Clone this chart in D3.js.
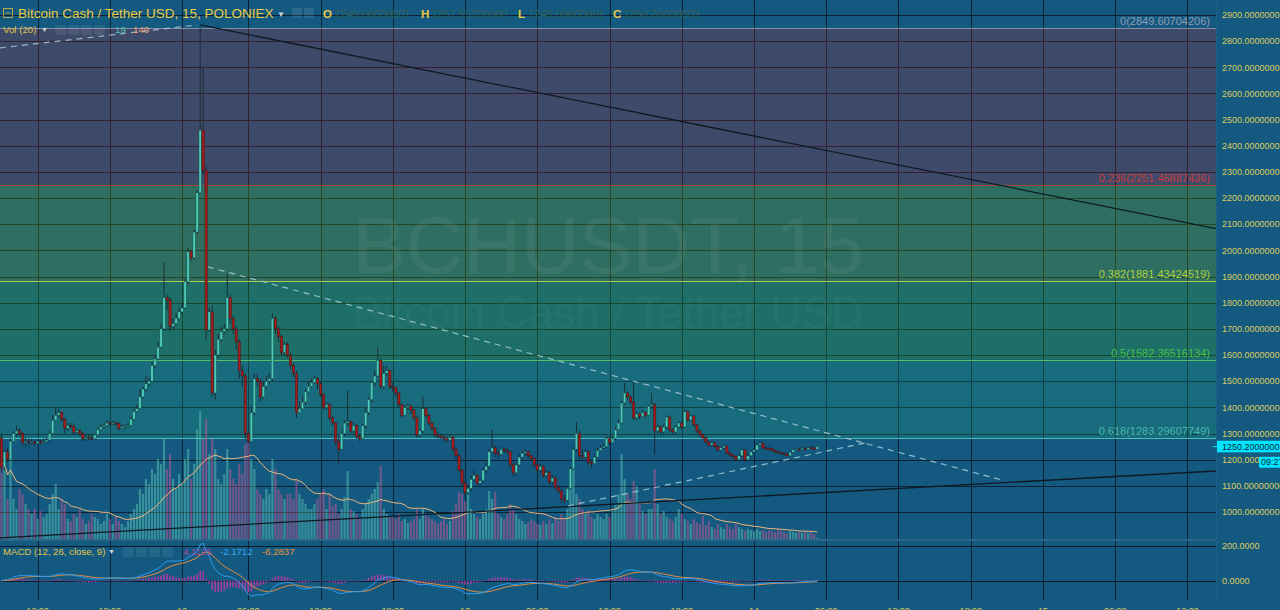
<!DOCTYPE html>
<html><head><meta charset="utf-8">
<script src="https://cdn.jsdelivr.net/npm/d3@7"></script>
<style>html,body{margin:0;padding:0;background:#145a80;overflow:hidden}svg{display:block}text{font-family:"Liberation Sans",Arial,sans-serif}</style>
</head><body><svg id="c" width="1280" height="610"></svg>
<script>
// ---------------- DATA ----------------
const firstOpen = 1283;
const closes = [
1170,1230,1200,1270,1300,1310,1300,1265,1270,1265,
1268,1262,1270,1265,1268,1275,1300,1350,1370,1380,
1355,1320,1330,1328,1305,1310,1300,1280,1285,1282,
1280,1295,1315,1325,1330,1340,1338,1340,1338,1320,
1325,1328,1330,1355,1385,1395,1440,1470,1490,1500,
1560,1585,1630,1700,1820,1810,1710,1720,1740,1765,
1780,1880,1995,1972,2070,2220,2460,2307,1696,1765,
1455,1600,1660,1690,1700,1820,1740,1700,1650,1540,
1520,1300,1270,1380,1510,1500,1440,1480,1500,1510,
1740,1700,1670,1610,1640,1600,1560,1530,1380,1395,
1420,1460,1480,1495,1510,1490,1450,1400,1410,1360,
1340,1270,1240,1300,1340,1345,1310,1330,1290,1280,
1330,1380,1430,1495,1520,1580,1480,1530,1540,1480,
1475,1455,1410,1370,1400,1405,1390,1360,1295,1310,
1395,1370,1340,1320,1295,1290,1285,1280,1275,1285,
1240,1215,1160,1110,1075,1090,1125,1140,1110,1120,
1160,1175,1230,1245,1225,1220,1240,1235,1230,1180,
1150,1180,1210,1225,1230,1215,1205,1180,1160,1175,
1140,1150,1115,1130,1095,1080,1050,1045,1090,1165,
1240,1300,1215,1210,1230,1190,1185,1210,1235,1245,
1250,1280,1265,1280,1315,1340,1417,1455,1440,1420,
1360,1375,1365,1380,1370,1405,1410,1310,1325,1306,
1325,1363,1314,1306,1325,1340,1325,1383,1352,1367,
1333,1310,1295,1283,1268,1256,1264,1250,1237,1245,
1252,1226,1218,1212,1200,1215,1237,1200,1215,1230,
1237,1256,1262,1245,1243,1242,1235,1230,1228,1225,
1222,1215,1228,1238,1240,1238,1243,1240,1246,1245,
1240,1250.2];
const highs = [
1300,1240,1245,1280,1310,1330,1320,1305,1285,1280,
1280,1275,1278,1275,1280,1285,1310,1370,1400,1395,
1385,1360,1340,1340,1340,1320,1318,1305,1295,1295,
1300,1300,1325,1335,1340,1350,1348,1350,1348,1345,
1335,1335,1340,1365,1395,1410,1470,1480,1520,1515,
1575,1600,1650,1720,1955,1830,1820,1740,1760,1780,
1800,1890,2010,2000,2080,2230,2849.6,2697,2320,1780,
1790,1620,1680,1710,1720,1910,1830,1750,1710,1660,
1560,1530,1310,1400,1530,1530,1510,1500,1520,1530,
1760,1750,1710,1680,1650,1650,1610,1570,1540,1420,
1440,1470,1500,1510,1520,1515,1500,1455,1420,1415,
1370,1345,1290,1310,1350,1466,1350,1345,1335,1300,
1340,1400,1440,1500,1540,1630,1590,1560,1560,1545,
1495,1480,1460,1415,1410,1415,1410,1395,1365,1320,
1440,1400,1375,1345,1325,1305,1300,1295,1290,1295,
1290,1250,1220,1165,1120,1105,1140,1160,1145,1130,
1170,1190,1240,1315,1255,1235,1250,1250,1245,1235,
1190,1190,1220,1235,1240,1235,1220,1210,1185,1185,
1180,1160,1160,1140,1135,1100,1090,1065,1100,1175,
1250,1345,1310,1240,1240,1235,1200,1220,1245,1255,
1260,1290,1290,1290,1325,1355,1425,1493,1462,1445,
1497,1385,1380,1390,1385,1410,1455,1415,1335,1330,
1335,1370,1368,1320,1332,1348,1345,1392,1388,1372,
1370,1338,1315,1300,1288,1272,1270,1268,1255,1250,
1258,1255,1230,1222,1215,1220,1242,1240,1222,1236,
1244,1262,1268,1268,1252,1250,1246,1240,1236,1232,
1230,1226,1232,1242,1246,1245,1250,1248,1252,1252,
1250,1251.55];
const lows = [
1150,1160,1190,1195,1265,1290,1290,1255,1250,1255,
1258,1255,1258,1258,1260,1265,1270,1295,1345,1360,
1345,1300,1310,1318,1295,1300,1292,1270,1272,1275,
1272,1278,1290,1310,1318,1325,1330,1332,1330,1312,
1315,1318,1322,1325,1350,1380,1390,1435,1460,1480,
1495,1550,1580,1625,1695,1770,1690,1700,1715,1735,
1755,1775,1870,1960,1965,2060,2215,2290,1660,1690,
1440,1430,1590,1650,1680,1690,1720,1680,1620,1510,
1480,1280,1260,1265,1370,1480,1420,1430,1470,1490,
1500,1680,1650,1600,1600,1590,1545,1515,1360,1380,
1390,1410,1455,1475,1490,1470,1440,1390,1390,1350,
1330,1255,1185,1235,1290,1330,1300,1300,1280,1270,
1275,1320,1370,1420,1480,1515,1470,1470,1520,1470,
1460,1440,1400,1360,1365,1390,1375,1350,1285,1285,
1300,1360,1330,1310,1285,1280,1278,1270,1265,1270,
1230,1200,1150,1095,1060,1065,1080,1120,1100,1100,
1110,1150,1165,1225,1210,1205,1215,1225,1220,1170,
1135,1140,1175,1200,1215,1205,1195,1170,1150,1150,
1130,1130,1105,1105,1085,1070,1035,1030,1040,1085,
1160,1230,1200,1195,1205,1180,1170,1180,1205,1230,
1240,1245,1255,1260,1275,1310,1335,1410,1430,1410,
1350,1350,1355,1360,1362,1365,1395,1220,1300,1298,
1300,1318,1305,1298,1300,1320,1318,1320,1345,1348,
1325,1302,1288,1276,1260,1250,1250,1244,1230,1232,
1240,1220,1212,1205,1192,1196,1210,1190,1196,1210,
1226,1232,1252,1240,1236,1236,1230,1225,1222,1218,
1215,1208,1212,1224,1234,1232,1235,1234,1238,1240,
1236,1240];
const volumes = [
1500,1540,800,1660,800,600,1000,900,700,600,
500,600,400,560,440,500,700,900,1100,600,
800,700,400,360,500,440,600,400,300,360,
500,440,400,300,360,500,400,300,440,360,
300,240,360,500,600,700,1000,900,1200,1100,
1400,1300,1600,1500,2000,1400,1700,1200,1000,1300,
1100,1600,1800,1200,1500,2200,2560,2000,2400,1700,
2000,1800,1200,1100,1300,1800,1400,1200,1100,1500,
1300,1900,1940,1600,1400,1000,900,800,1000,900,
1600,1400,1000,900,800,900,900,800,1200,900,
800,700,600,600,700,800,900,1000,600,900,
660,700,500,600,840,1360,600,560,500,400,
600,700,800,900,1000,1140,1460,600,500,440,
440,400,500,360,400,320,360,400,600,400,
600,500,440,400,360,300,360,400,300,360,
560,700,940,900,760,940,600,500,440,400,
500,600,960,800,940,500,440,400,500,700,
600,500,400,360,300,340,400,360,300,280,
360,300,400,320,440,360,500,400,600,1000,
1400,900,800,600,500,560,440,400,500,440,
400,500,440,560,700,900,1700,1200,900,800,
1160,1060,700,560,500,600,600,1400,700,500,
560,440,400,360,440,600,500,400,360,300,
400,340,300,460,280,360,240,200,300,240,
200,300,240,200,300,240,200,160,200,180,
160,200,160,180,140,180,160,140,200,160,
140,120,160,140,120,140,120,160,120,140,
100,19];
const timeTickIndex  = [12,36,60,82,106,130,154,178,202,226,250,274,298,322,346,370,394];
const timeTickLabels = ["12:00","18:00","12","06:00","12:00","18:00","13","06:00","12:00","18:00","14","06:00","12:00","18:00","15","06:00","12:00"];
const priceTicks = [1000,1100,1200,1300,1400,1500,1600,1700,1800,1900,2000,2100,2200,2300,2400,2500,2600,2700,2800,2900];
const macdTicks = [0,200];
const fibRatios = ["0","0.236","0.382","0.5","0.618"];
const fibPrices = [2849.60704206,2251.46887436,1881.43424519,1582.36516134,1283.29607749];
const lineSolidUpper = [[66,2862],[404,2082]];
const lineSolidLower = [[-0.5,901],[404,1157]];
const lineDashedDown = [[68.6,1937],[333.4,1119]];
const lineDashedUp   = [[188.2,1023],[286.9,1264]];
const lineDashedTop  = [[-0.5,2774],[65,2862]];
const lastOHLC = ["1240.00000001","1251.55200000","1240.00000001","1250.20000003"];
const lastPrice = 1250.2;
const volHeader = ["19","140"];
const macdHeader = ["4.1125","-2.1712","-6.2837"];

// ---------------- SETUP ----------------
const svg = d3.select("#c");
const PR = 1216, MAIN_B = 539, MACD_T = 541, MACD_B = 600;
const x = d3.scaleLinear().domain([0,394]).range([1.5, 1.5+394*3.01]);
const y = d3.scaleLinear().domain([1000,2900]).range([512,15]);
const yv = d3.scaleLinear().domain([0,2000]).range([MAIN_B, MAIN_B-100]);
const ym = d3.scaleLinear().domain([0,200]).range([580.7,546]);
const opens = closes.map((c,i)=> i===0 ? firstOpen : closes[i-1]);

const defs = svg.append("defs");
defs.append("clipPath").attr("id","clipMain").append("rect").attr("x",0).attr("y",0).attr("width",PR).attr("height",MAIN_B);
defs.append("clipPath").attr("id","clipMacd").append("rect").attr("x",0).attr("y",MACD_T).attr("width",PR).attr("height",MACD_B-MACD_T);

svg.append("rect").attr("width",1280).attr("height",610).attr("fill","#145a80");

// grid
const grid = svg.append("g");
grid.selectAll("line.h").data(priceTicks).join("line")
  .attr("x1",0).attr("x2",PR).attr("y1",d=>Math.round(y(d))+0.5).attr("y2",d=>Math.round(y(d))+0.5)
  .attr("stroke","#0a2233").attr("stroke-width",1);
grid.selectAll("line.v").data(timeTickIndex).join("line")
  .attr("x1",d=>Math.round(x(d))+0.5).attr("x2",d=>Math.round(x(d))+0.5).attr("y1",0).attr("y2",MACD_B)
  .attr("stroke","#0a2233").attr("stroke-width",1);
grid.selectAll("line.m").data(macdTicks).join("line")
  .attr("x1",0).attr("x2",PR).attr("y1",d=>Math.round(ym(d))+0.5).attr("y2",d=>Math.round(ym(d))+0.5)
  .attr("stroke","#081c2a").attr("stroke-width",1);

// fib zones
const zoneColors = ["rgba(188,26,36,0.25)","rgba(124,175,8,0.26)","rgba(60,175,36,0.26)","rgba(40,162,116,0.25)"];
const zones = d3.range(fibPrices.length-1).map(i=>({a:fibPrices[i],b:fibPrices[i+1],c:zoneColors[i]}));
svg.append("g").selectAll("rect").data(zones).join("rect")
  .attr("x",0).attr("width",PR).attr("y",d=>y(d.a)).attr("height",d=>y(d.b)-y(d.a)).attr("fill",d=>d.c);
const fibLineColors = ["#8e97aa","#b8393c","#bcd84e","#5ccc5c","#55c8bf"];
const fibTextColors = ["#909cb2","#c83a3a","#b0d040","#48c048","#45b8aa"];
svg.append("g").selectAll("line").data(fibPrices).join("line")
  .attr("x1",0).attr("x2",PR).attr("y1",d=>Math.round(y(d))+0.5).attr("y2",d=>Math.round(y(d))+0.5)
  .attr("stroke",(d,i)=>fibLineColors[i]).attr("stroke-width",1).attr("opacity",0.9);

// watermark
svg.append("text").attr("x",608).attr("y",273).attr("text-anchor","middle").attr("font-size",80)
  .attr("fill","rgba(255,255,255,0.055)").text("BCHUSDT, 15");
svg.append("text").attr("x",608).attr("y",328).attr("text-anchor","middle").attr("font-size",44)
  .attr("fill","rgba(255,255,255,0.055)").text("Bitcoin Cash / Tether USD");

const main = svg.append("g").attr("clip-path","url(#clipMain)");
// volume
const bars = closes.map((c,i)=>({i,o:opens[i],c,h:highs[i],l:lows[i],v:volumes[i]}));
main.append("g").selectAll("rect").data(bars).join("rect")
  .attr("x",d=>x(d.i)-1.1).attr("width",2.2)
  .attr("y",d=>yv(d.v)).attr("height",d=>MAIN_B-yv(d.v))
  .attr("fill",d=>d.c>=d.o ? "rgba(95,200,180,0.48)" : "rgba(205,85,150,0.48)");
const volMA = volumes.map((v,i)=>{const s=volumes.slice(Math.max(0,i-19),i+1);return d3.mean(s);});
main.append("path").datum(volMA).attr("fill","none").attr("stroke","#f0b678").attr("stroke-width",1)
  .attr("d",d3.line().x((d,i)=>x(i)).y(d=>yv(d)));

// trend lines
const tl = d3.line().x(d=>x(d[0])).y(d=>y(d[1]));
main.append("path").datum(lineSolidUpper).attr("d",tl).attr("stroke","#0d1a24").attr("stroke-width",1.3).attr("fill","none");
main.append("path").datum(lineSolidLower).attr("d",tl).attr("stroke","#0d1a24").attr("stroke-width",1.3).attr("fill","none");
[lineDashedDown,lineDashedUp,lineDashedTop].forEach(l=>{
  main.append("path").datum(l).attr("d",tl).attr("stroke","#a9cbd6").attr("stroke-width",1.2)
    .attr("stroke-dasharray","6,5").attr("fill","none").attr("opacity",0.85);
});

// candles
const cg = main.append("g");
cg.selectAll("line").data(bars).join("line")
  .attr("x1",d=>x(d.i)).attr("x2",d=>x(d.i))
  .attr("y1",d=>y(Math.max(d.h,d.o,d.c))).attr("y2",d=>y(Math.min(d.l,d.o,d.c)))
  .attr("stroke","#1c2d36").attr("stroke-width",1);
cg.selectAll("rect").data(bars).join("rect")
  .attr("x",d=>x(d.i)-1.2).attr("width",2.4)
  .attr("y",d=>y(Math.max(d.o,d.c))).attr("height",d=>Math.max(1,Math.abs(y(d.o)-y(d.c))))
  .attr("fill",d=>d.c>=d.o ? "#4ccab6" : "#a51c1c")
  .attr("stroke",d=>d.c>=d.o ? "rgba(15,60,60,0.7)" : "rgba(50,10,10,0.7)").attr("stroke-width",0.5);

// fib labels
svg.append("g").selectAll("text").data(fibPrices).join("text")
  .attr("x",1210).attr("y",d=>y(d)-3).attr("text-anchor","end").attr("font-size",11)
  .attr("fill",(d,i)=>fibTextColors[i]).text((d,i)=>fibRatios[i]+"("+d.toFixed(8)+")");

// pane separator
svg.append("rect").attr("x",0).attr("y",MAIN_B).attr("width",1280).attr("height",2).attr("fill","#2a6487");

// MACD (computed from closes)
function ema(arr,n){const k=2/(n+1);const out=[];arr.forEach((v,i)=>{out.push(i===0?v:v*k+out[i-1]*(1-k));});return out;}
const e12 = ema(closes,12), e26 = ema(closes,26);
const macd = e12.map((v,i)=>v-e26[i]);
const signal = ema(macd,9);
const hist = macd.map((v,i)=>v-signal[i]);
const mg = svg.append("g").attr("clip-path","url(#clipMacd)");
mg.append("g").selectAll("rect").data(hist).join("rect")
  .attr("x",(d,i)=>x(i)-0.8).attr("width",1.6)
  .attr("y",d=>Math.min(ym(d),ym(0))).attr("height",d=>Math.max(0.8,Math.abs(ym(d)-ym(0))))
  .attr("fill","#b53a9e").attr("opacity",0.9);
mg.append("path").datum(signal).attr("fill","none").attr("stroke","#e98c3c").attr("stroke-width",1)
  .attr("d",d3.line().x((d,i)=>x(i)).y(d=>ym(d)));
mg.append("path").datum(macd).attr("fill","none").attr("stroke","#2d9cf0").attr("stroke-width",1)
  .attr("d",d3.line().x((d,i)=>x(i)).y(d=>ym(d)));

// right axis
svg.append("rect").attr("x",PR).attr("y",0).attr("width",1280-PR).attr("height",610).attr("fill","#145a80");
svg.append("line").attr("x1",PR+0.5).attr("x2",PR+0.5).attr("y1",0).attr("y2",MACD_B).attr("stroke","#1a5f85");
svg.append("g").selectAll("text").data(priceTicks).join("text")
  .attr("x",1222).attr("y",d=>y(d)+3.2).attr("font-size",9).attr("fill","#dccb5e").text(d=>d.toFixed(8));
svg.append("g").selectAll("text").data(macdTicks).join("text")
  .attr("x",1222).attr("y",d=>ym(d)+3.2).attr("font-size",9).attr("fill","#dccb5e").text(d=>d.toFixed(4));
// price tag
const py = y(lastPrice);
svg.append("rect").attr("x",1217).attr("y",py-5.8).attr("width",63).attr("height",11.6).attr("fill","#00e5ff");
svg.append("line").attr("x1",1213).attr("x2",1217).attr("y1",py).attr("y2",py).attr("stroke","#00e5ff");
svg.append("text").attr("x",1222).attr("y",py+3.2).attr("font-size",9).attr("fill","#0b2a38").text(lastPrice.toFixed(7));
svg.append("rect").attr("x",1259).attr("y",py+10.2).attr("width",21).attr("height",11).attr("fill","#00e5ff");
svg.append("text").attr("x",1261).attr("y",py+18.8).attr("font-size",9).attr("fill","#0b2a38").text("09:27");

// time axis
svg.append("g").selectAll("text").data(timeTickIndex).join("text")
  .attr("x",d=>x(d)).attr("y",613.5).attr("text-anchor","middle").attr("font-size",9).attr("fill","#dccb5e")
  .text((d,i)=>timeTickLabels[i]);

// header
const hd = svg.append("g");
hd.append("rect").attr("x",3.5).attr("y",8.5).attr("width",9).attr("height",9).attr("fill","none").attr("stroke","#b8a850").attr("stroke-width",1);
hd.append("line").attr("x1",5.5).attr("x2",10.5).attr("y1",13).attr("y2",13).attr("stroke","#b8a850");
hd.append("text").attr("x",18).attr("y",18.3).attr("font-size",13.5).attr("fill","#e8ca45").text("Bitcoin Cash / Tether USD, 15, POLONIEX");
hd.append("text").attr("x",277).attr("y",17).attr("font-size",8).attr("fill","#d0d4d8").text("▼");
[292,304].forEach(px=>hd.append("rect").attr("x",px).attr("y",8).attr("width",10).attr("height",10).attr("rx",2).attr("fill","rgba(255,255,255,0.1)"));
const ohlcX = [[323,334],[421,431],[518,528],[613,623]];
["O","H","L","C"].forEach((k,i)=>{
  hd.append("text").attr("x",ohlcX[i][0]).attr("y",18).attr("font-size",11.5).attr("font-weight","bold").attr("fill","#e8ca45").text(k);
  hd.append("text").attr("x",ohlcX[i][1]).attr("y",18).attr("font-size",11).attr("fill","#2f5d57").text(lastOHLC[i]);
});
hd.append("text").attr("x",3).attr("y",32.5).attr("font-size",9.7).attr("fill","#e0c64a").text("Vol (20)");
hd.append("text").attr("x",41).attr("y",31.5).attr("font-size",7).attr("fill","#d0d4d8").text("▼");
[55,68,81,94].forEach(px=>hd.append("rect").attr("x",px).attr("y",25).attr("width",11).attr("height",10).attr("rx",2).attr("fill","rgba(255,255,255,0.08)"));
hd.append("text").attr("x",115).attr("y",32.5).attr("font-size",9.7).attr("fill","#4fc2b0").text(volHeader[0]);
hd.append("text").attr("x",133).attr("y",32.5).attr("font-size",9.7).attr("fill","#f0a27a").text(volHeader[1]);

hd.append("text").attr("x",3).attr("y",555).attr("font-size",9.6).attr("fill","#e0c64a").text("MACD (12, 26, close, 9)");
hd.append("text").attr("x",108).attr("y",554).attr("font-size",7).attr("fill","#d0d4d8").text("▼");
[123,136,149,162].forEach(px=>hd.append("rect").attr("x",px).attr("y",547).attr("width",11).attr("height",10).attr("rx",2).attr("fill","rgba(255,255,255,0.08)"));
const macdHdrX = [183,220,262], macdHdrC = ["rgba(205,70,170,0.8)","#3aa4f0","#e9913e"];
macdHeader.forEach((t,i)=>hd.append("text").attr("x",macdHdrX[i]).attr("y",555).attr("font-size",9.6).attr("fill",macdHdrC[i]).text(t));
</script></body></html>
